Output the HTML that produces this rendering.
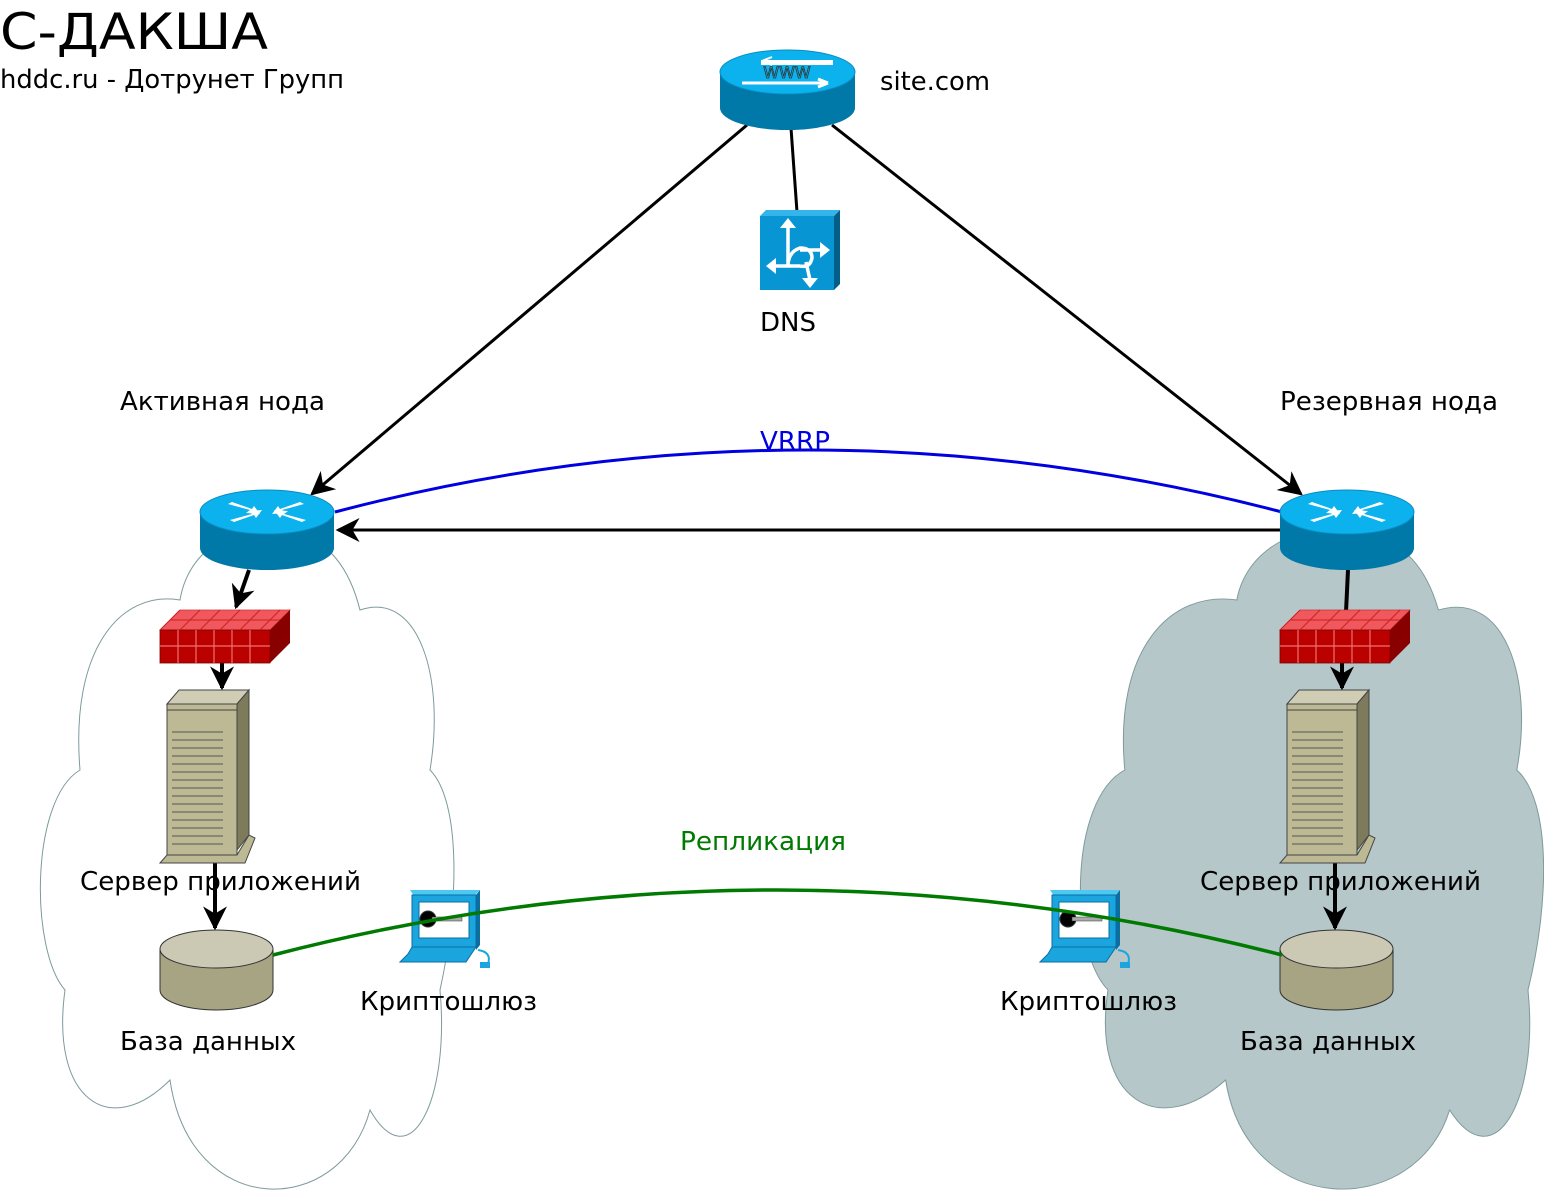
<!DOCTYPE html>
<html><head><meta charset="utf-8"><style>
html,body{margin:0;padding:0;background:#fff;width:1544px;height:1198px;overflow:hidden}
svg{display:block}
text{font-family:"DejaVu Sans","Liberation Sans",sans-serif;}
</style></head><body>
<svg width="1544" height="1198" viewBox="0 0 1544 1198" xmlns="http://www.w3.org/2000/svg">
<defs>
<marker id="ar" viewBox="0 0 10 10" refX="9" refY="5" markerWidth="8" markerHeight="8" orient="auto-start-reverse" markerUnits="strokeWidth">
<path d="M0,0 L10,5 L0,10 L3,5 Z" fill="#000"/></marker>
<marker id="ar2" viewBox="0 0 10 10" refX="9" refY="5" markerWidth="6" markerHeight="6" orient="auto-start-reverse" markerUnits="strokeWidth">
<path d="M0,0 L10,5 L0,10 L3,5 Z" fill="#000"/></marker>
<g id="router">
<path d="M0,22 L0,58 A67,22 0 0 0 134,58 L134,22 Z" fill="#0079a8"/>
<ellipse cx="67" cy="22" rx="67" ry="22" fill="#0bb2ee" stroke="#0a8cc0"/>
<g fill="#fff">
<path d="M30,30 L52,24 L48,21 L62,20 L56,28 L54,25 L34,32 Z"/>
<path d="M104,14 L82,20 L86,23 L72,24 L78,16 L80,19 L100,12 Z"/>
<path d="M28,14 L50,20 L46,23 L60,24 L54,16 L52,19 L32,12 Z"/>
<path d="M106,30 L84,24 L88,21 L74,20 L80,28 L82,25 L102,32 Z"/>
</g>
</g>
<g id="fw">
<path d="M0,20 L20,0 L130,0 L110,20 Z" fill="#f0585e" stroke="#c33" stroke-width="0.8"/>
<rect x="0" y="20" width="110" height="33" fill="#b00" stroke="#700" stroke-width="0.8"/>
<path d="M110,20 L130,0 L130,33 L110,53 Z" fill="#800"/>
<path d="M0,36 H110 M18,20 V53 M36,20 V53 M54,20 V53 M72,20 V53 M90,20 V53" stroke="#f07070" stroke-width="1.2" fill="none"/>
<path d="M20,0 L0,20 M40,0 L20,20 M60,0 L40,20 M80,0 L60,20 M100,0 L80,20 M120,0 L100,20 M10,10 H120" stroke="#c22" stroke-width="1" fill="none"/>
</g>
<g id="srv">
<path d="M7,14 L19,0 L89,0 L77,14 Z" fill="#cfcdb4" stroke="#444" stroke-width="1"/>
<rect x="7" y="14" width="70" height="155" fill="#bcb994" stroke="#444"/>
<path d="M77,14 L89,0 L89,145 L77,160 Z" fill="#7d7b5c" stroke="#444"/>
<path d="M0,173 L7,165 L77,165 L89,145 L95,148 L85,173 Z" fill="#bcb994" stroke="#444"/>
<path d="M7,20 H77" stroke="#444"/>
<g stroke="#555" stroke-width="1" fill="none">
<path d="M12,42 H63 M12,50 H63 M12,58 H63 M12,66 H63 M12,74 H63 M12,82 H63 M12,90 H63 M12,98 H63 M12,106 H63 M12,114 H63 M12,122 H63 M12,130 H63 M12,138 H63 M12,146 H63 M12,154 H63"/>
</g>
</g>
<g id="db">
<path d="M0,20 L0,60 A56.5,20 0 0 0 113,60 L113,20 Z" fill="#a6a482" stroke="#333"/>
<ellipse cx="56.5" cy="19" rx="56.5" ry="19" fill="#cbc9b3" stroke="#333"/>
</g>
<g id="cr">
<path d="M10,0 L80,0 L74,6 L14,6 Z" fill="#4cc8f4"/>
<rect x="12" y="5" width="64" height="52" fill="#1aa5df" stroke="#0a6ea0"/>
<path d="M76,5 L80,0 L80,55 L76,60 Z" fill="#0a6ea0"/>
<rect x="19" y="12" width="50" height="36" fill="#fff" stroke="#0a6ea0"/>
<circle cx="28" cy="29" r="8" fill="#000" stroke="#333"/>
<rect x="32" y="27" width="30" height="4" fill="#aaa" stroke="#333" stroke-width="0.5"/>
<path d="M12,57 L76,57 L66,72 L0,72 L8,64 Z" fill="#1aa5df" stroke="#0a6ea0"/>
<path d="M78,60 Q92,62 88,74" stroke="#1aa5df" stroke-width="2" fill="none"/>
<rect x="80" y="72" width="10" height="6" fill="#1aa5df"/>
</g>
</defs>

<path d="M180,600 C190,540 250,520 290,530 C330,540 350,570 360,610 C420,590 445,680 430,770 C460,800 460,900 440,990 C450,1100 410,1180 370,1110 C340,1220 190,1220 170,1080 C110,1140 50,1100 65,990 C30,950 30,800 80,770 C70,650 120,590 180,600 Z" fill="#fff" stroke="#7f9a9c" stroke-width="1"/>
<path transform="translate(1080,0) scale(1.12,1) translate(-40,0)" d="M180,600 C190,540 250,520 290,530 C330,540 350,570 360,610 C420,590 445,680 430,770 C460,800 460,900 440,990 C450,1100 410,1180 370,1110 C340,1220 190,1220 170,1080 C110,1140 50,1100 65,990 C30,950 30,800 80,770 C70,650 120,590 180,600 Z" fill="#b5c7c9" stroke="#7f9a9c" stroke-width="0.9"/>

<text x="0" y="49" font-size="50" textLength="268" lengthAdjust="spacingAndGlyphs">С-ДАКША</text>
<text x="0" y="88" font-size="26" textLength="344" lengthAdjust="spacingAndGlyphs">hddc.ru - Дотрунет Групп</text>

<line x1="747" y1="125" x2="312" y2="494" stroke="#000" stroke-width="3" marker-end="url(#ar)"/>
<line x1="832" y1="125" x2="1301" y2="494" stroke="#000" stroke-width="3" marker-end="url(#ar)"/>
<line x1="791" y1="128" x2="797" y2="212" stroke="#000" stroke-width="3"/>
<line x1="1280" y1="530" x2="338" y2="530" stroke="#000" stroke-width="3" marker-end="url(#ar)"/>
<path d="M335,512 Q807,388 1282,512" stroke="#0000e0" stroke-width="3" fill="none"/>

<line x1="249" y1="570" x2="236" y2="607" stroke="#000" stroke-width="4" marker-end="url(#ar2)"/>
<line x1="222" y1="663" x2="222" y2="688" stroke="#000" stroke-width="4" marker-end="url(#ar2)"/>
<line x1="215" y1="862" x2="215" y2="928" stroke="#000" stroke-width="4" marker-end="url(#ar2)"/>
<line x1="1348" y1="570" x2="1346" y2="612" stroke="#000" stroke-width="4"/>
<line x1="1342" y1="663" x2="1342" y2="688" stroke="#000" stroke-width="4" marker-end="url(#ar2)"/>
<line x1="1335" y1="862" x2="1335" y2="928" stroke="#000" stroke-width="4" marker-end="url(#ar2)"/>

<g transform="translate(720,50)">
<path d="M0,22 L0,58 A67.5,22 0 0 0 135,58 L135,22 Z" fill="#0079a8"/>
<ellipse cx="67.5" cy="22" rx="67.5" ry="22" fill="#0bb2ee" stroke="#0a8cc0"/>
<path d="M42,11 H112 V14 H42 Z M42,11 L52,7 M42,11 L52,15" stroke="#fff" stroke-width="2" fill="#fff"/>
<path d="M22,33 H108 M108,33 L98,29 M108,33 L98,37" stroke="#fff" stroke-width="3" fill="none"/>
<text x="67" y="28" font-size="16" text-anchor="middle" fill="#0bb2ee" stroke="#333" stroke-width="0.8">WWW</text>
</g>
<g transform="translate(760,210)">
<rect x="0" y="6" width="74" height="74" fill="#0796d3"/>
<path d="M0,6 L6,0 L80,0 L74,6 Z" fill="#33b4ea"/>
<path d="M74,6 L80,0 L80,74 L74,80 Z" fill="#045f88"/>
<g stroke="#fff" stroke-width="3.5" fill="none">
<path d="M28,16 V56 Q28,42 40,38 Q52,38 52,48 Q50,58 40,56 M40,40 L62,40 M12,56 L40,56 M46,52 L50,70"/>
</g>
<g fill="#fff"><path d="M28,8 L20,18 L36,18 Z M70,40 L60,32 L60,48 Z M6,56 L16,48 L16,64 Z M50,78 L42,68 L58,68 Z"/></g>
</g>

<use href="#router" x="200" y="490"/>
<use href="#router" x="1280" y="490"/>
<use href="#fw" x="160" y="610"/>
<use href="#fw" x="1280" y="610"/>
<use href="#srv" x="160" y="690"/>
<use href="#srv" x="1280" y="690"/>
<use href="#db" x="160" y="930"/>
<use href="#db" x="1280" y="930"/>
<use href="#cr" x="400" y="890"/>
<use href="#cr" x="1040" y="890"/>
<path d="M273,955 Q776,825 1282,955" stroke="#007a00" stroke-width="3.5" fill="none"/>

<g font-size="26" fill="#000">
<text x="880" y="90" textLength="110" lengthAdjust="spacingAndGlyphs">site.com</text>
<text x="760" y="331" textLength="56" lengthAdjust="spacingAndGlyphs">DNS</text>
<text x="120" y="410" textLength="205" lengthAdjust="spacingAndGlyphs">Активная нода</text>
<text x="1280" y="410" textLength="218" lengthAdjust="spacingAndGlyphs">Резервная нода</text>
<text x="80" y="890" textLength="281" lengthAdjust="spacingAndGlyphs">Сервер приложений</text>
<text x="1200" y="890" textLength="281" lengthAdjust="spacingAndGlyphs">Сервер приложений</text>
<text x="360" y="1010" textLength="177" lengthAdjust="spacingAndGlyphs">Криптошлюз</text>
<text x="1000" y="1010" textLength="177" lengthAdjust="spacingAndGlyphs">Криптошлюз</text>
<text x="120" y="1050" textLength="176" lengthAdjust="spacingAndGlyphs">База данных</text>
<text x="1240" y="1050" textLength="176" lengthAdjust="spacingAndGlyphs">База данных</text>
<text x="760" y="450" fill="#0000e0" textLength="70" lengthAdjust="spacingAndGlyphs">VRRP</text>
<text x="680" y="850" fill="#007a00" textLength="166" lengthAdjust="spacingAndGlyphs">Репликация</text>
</g>
</svg>
</body></html>
